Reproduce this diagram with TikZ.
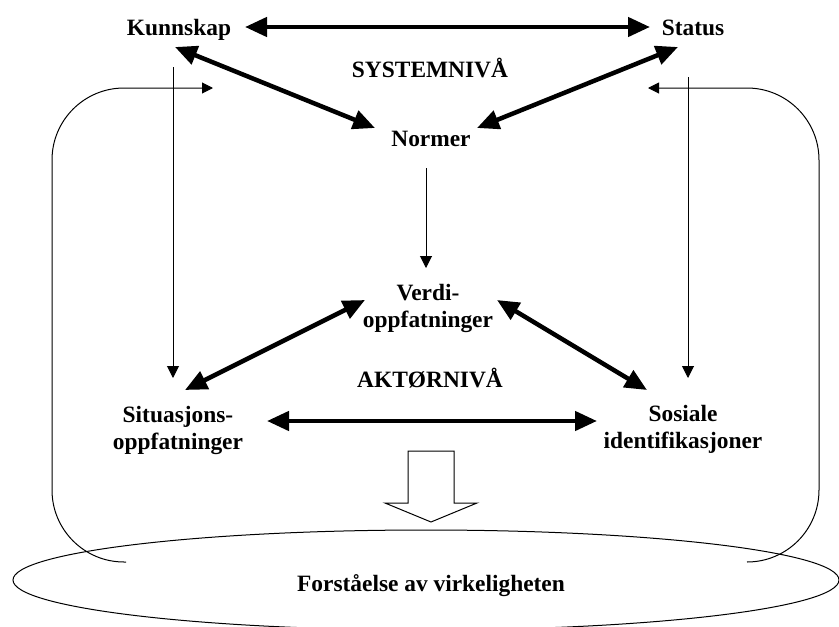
\documentclass[tikz,border=0pt]{standalone}
\usepackage{fontspec}
\setmainfont{Liberation Serif}
\usetikzlibrary{arrows.meta}
\begin{document}
\begin{tikzpicture}[x=1pt,y=-1pt,
  lbl/.style={font=\fontsize{23.4}{27}\selectfont\bfseries, inner sep=0pt, align=center},
  bigarr/.style={line width=4.5pt, {Triangle[length=22pt,width=19pt]}-{Triangle[length=22pt,width=19pt]}},
  thinarr/.style={line width=1pt, -{Triangle[length=12pt,width=12pt]}},
  fback/.style={line width=1pt}]
\useasboundingbox (0,0) rectangle (839,627);

% outcome ellipse
\draw[fback] (426,580) ellipse [x radius=413, y radius=50];

% feedback loops around the actor level
\coordinate (fbl0) at (126,562);
\coordinate (fbl1) at (213,88);
\coordinate (fbr0) at (747,562);
\coordinate (fbr1) at (648,88);
\draw[fback, rounded corners=72pt, -{Triangle[length=11pt,width=11pt]}]
  (fbl0) -| (52,88) -- (fbl1);
\draw[fback, rounded corners=72pt, -{Triangle[length=11pt,width=11pt]}]
  (fbr0) -| (819,88) -- (fbr1);

% concepts
\node[lbl, anchor=base] (kunn) at (179,35) {Kunnskap};
\node[lbl, anchor=base] (stat) at (693,35) {Status};
\node[lbl, anchor=base] (sys) at (430,77) {SYSTEMNIVÅ};
\node[lbl, anchor=base] (norm) at (431,146) {Normer};
\node[lbl] (verdi) at (428,308) {Verdi-\\oppfatninger};
\node[lbl, anchor=base] (akt) at (430,387) {AKTØRNIVÅ};
\node[lbl] (situ) at (178,430) {Situasjons-\\oppfatninger};
\node[lbl] (sos) at (683,429) {Sosiale\\identifikasjoner};
\node[lbl, anchor=base] (forst) at (431,591) {Forståelse av virkeligheten};

% system level
\draw[bigarr] ([shift={(66,-8)}]kunn.base) -- ([shift={(-43,-8)}]stat.base);
\draw[bigarr] ([shift={(-4,12)}]kunn.base) -- ([shift={(-56,-18)}]norm.base);
\draw[bigarr] ([shift={(-15,12)}]stat.base) -- ([shift={(46,-18)}]norm.base);

% links between the levels
\draw[thinarr] ([shift={(-5,22)}]norm.base) -- ([shift={(-2,-40)}]verdi.center);
\draw[thinarr] ([shift={(-6,32)}]kunn.base) -- ([shift={(-5,-52)}]situ.center);
\draw[thinarr] ([shift={(-5,42)}]stat.base) -- ([shift={(5,-51)}]sos.center);

% actor level
\draw[bigarr] ([shift={(-63,-8)}]verdi.center) -- ([shift={(7,-40)}]situ.center);
\draw[bigarr] ([shift={(69,-8)}]verdi.center) -- ([shift={(-36,-39)}]sos.center);
\draw[bigarr] ([shift={(89,-9)}]situ.center) -- ([shift={(-86,-8)}]sos.center);

% hollow arrow down to the outcome
\draw[fback, fill=white] (408,451) -- (454,451) -- (454,503) -- (477,503)
  -- (431,522) -- (385,503) -- (408,503) -- cycle;
\end{tikzpicture}
\end{document}
